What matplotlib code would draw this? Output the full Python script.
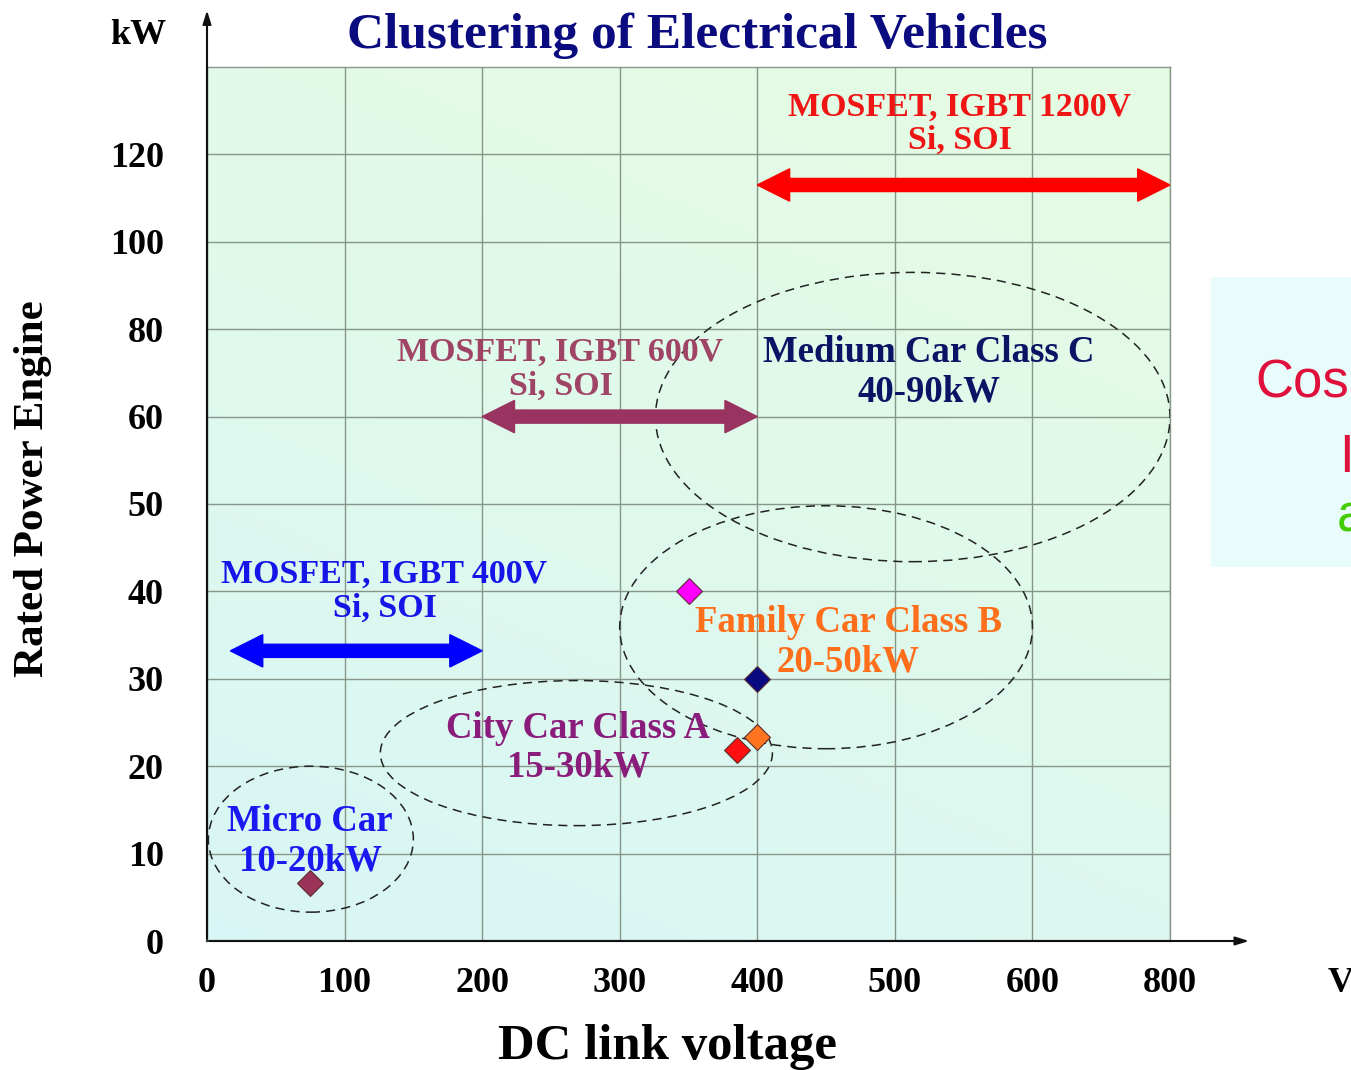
import numpy as np
import matplotlib.pyplot as plt
from matplotlib.patches import Ellipse, Polygon, Rectangle

# axis ticks (the axis is evenly spaced by tick, not linear in value)
x_ticks = [0, 100, 200, 300, 400, 500, 600, 800]
y_ticks = [0, 10, 20, 30, 40, 50, 60, 80, 100, 120]
y_top = 140

# vehicles (diamonds)
vehicle_v = [75, 350, 400, 385, 400]
vehicle_kw = [6.6, 40, 30, 21.9, 23.3]
vehicle_colors = ['#9B3358', '#FF00FF', '#0A0A80', '#FF1010', '#FF7420']

# vehicle clusters (dashed ellipses), bounds in V and kW
cluster_labels = ['Micro Car\n10-20kW', 'City Car Class A\n15-30kW',
                  'Family Car Class B\n20-50kW', 'Medium Car Class C\n40-90kW']
cluster_v = [(1, 150), (126, 411), (300, 600), (326, 800)]
cluster_kw = [(3.3, 20), (13.2, 29.8), (22, 49.8), (43.4, 93)]
cluster_colors = ['#1A1AF0', '#8A1C7C', '#FF6E1A', '#0A1464']
cluster_text_at = [(75, 11.4), (270, 22.1), (466, 34.2), (525, 70.2)]

# power device voltage ranges (double arrows)
device_labels = ['MOSFET, IGBT 400V\nSi, SOI', 'MOSFET, IGBT 600V\nSi, SOI',
                 'MOSFET, IGBT 1200V\nSi, SOI']
device_v = [(17, 200), (200, 400), (400, 800)]
device_kw = [33.2, 60, 113]
device_colors = ['#0000FF', '#993360', '#FF0000']
device_text_colors = ['#1515E8', '#A04466', '#F01515']
device_text_at = [(129, 40), (257, 70.8), (547, 127)]


def xp(v):
    return np.interp(v, x_ticks, np.arange(len(x_ticks)))


def yp(v):
    return np.interp(v, y_ticks + [y_top], np.arange(len(y_ticks) + 1))


serif = 'Liberation Serif'
W, H = 1351, 1070
fig = plt.figure(figsize=(W / 100, H / 100), dpi=100)
ax = fig.add_axes([207 / W, 1 - 941 / H, (1170 - 207) / W, (941 - 67) / H])

nx, ny = len(x_ticks) - 1, len(y_ticks)
ax.set_xlim(0, nx)
ax.set_ylim(0, ny)

# background gradient: cyan bottom-left to mint green top-right
gx, gy = np.meshgrid(np.linspace(0, 1, 200), np.linspace(0, 1, 200))
t = np.clip(0.35 * gx + 0.75 * gy, 0, 1)[..., None]
cyan = np.array([0.85, 0.965, 0.965])
green = np.array([0.895, 0.985, 0.895])
ax.imshow(cyan * (1 - t) + green * t, extent=[0, nx, 0, ny], origin='lower',
          aspect='auto', zorder=0)

ax.set_xticks(np.arange(len(x_ticks)))
ax.set_xticklabels([str(v) for v in x_ticks])
ax.set_yticks(np.arange(len(y_ticks)))
ax.set_yticklabels([str(v) for v in y_ticks])
ax.tick_params(length=0, labelsize=26)
ax.tick_params(axis='x', pad=19)
ax.tick_params(axis='y', pad=31)
for lab in ax.get_xticklabels() + ax.get_yticklabels():
    lab.set_fontfamily(serif)
    lab.set_fontweight('bold')
ax.get_xticklabels()[0].set_x(-0.09)
ax.grid(True, color='#869688', lw=1)
ax.set_axisbelow(True)
for s in ['top', 'right']:
    ax.spines[s].set_color('#869688')
    ax.spines[s].set_linewidth(1)
for s in ['left', 'bottom']:
    ax.spines[s].set_color('#2A3A3A')
    ax.spines[s].set_linewidth(1.5)

# axis arrows
ax.annotate('', xy=(0, 1.068), xytext=(0, 0), xycoords='axes fraction',
            arrowprops=dict(arrowstyle='-|>,head_length=0.8,head_width=0.25',
                            color='#111111', lw=1.5), annotation_clip=False)
ax.annotate('', xy=(1.085, 0), xytext=(0, 0), xycoords='axes fraction',
            arrowprops=dict(arrowstyle='-|>,head_length=0.8,head_width=0.25',
                            color='#111111', lw=1.5), annotation_clip=False)

# clusters
for lab, (v0, v1), (k0, k1), c, (tv, tk) in zip(cluster_labels, cluster_v, cluster_kw,
                                                 cluster_colors, cluster_text_at):
    x0, x1, y0, y1 = xp(v0), xp(v1), yp(k0), yp(k1)
    ax.add_patch(Ellipse(((x0 + x1) / 2, (y0 + y1) / 2), x1 - x0, y1 - y0,
                         fill=False, ec='#222222', lw=1.1, ls=(0, (6, 4)), zorder=3))
    ax.text(xp(tv), yp(tk), lab, color=c, fontsize=26.5, fontfamily=serif,
            fontweight='bold', ha='center', va='center', linespacing=1.15, zorder=5)

# device ranges
shaft, head_w, head_l = 0.075, 0.185, 0.235
for lab, (v0, v1), k, c, tc, (tv, tk) in zip(device_labels, device_v, device_kw, device_colors,
                                             device_text_colors, device_text_at):
    x0, x1, y = xp(v0), xp(v1), yp(k)
    pts = [(x0, y), (x0 + head_l, y + head_w), (x0 + head_l, y + shaft),
           (x1 - head_l, y + shaft), (x1 - head_l, y + head_w), (x1, y),
           (x1 - head_l, y - head_w), (x1 - head_l, y - shaft),
           (x0 + head_l, y - shaft), (x0 + head_l, y - head_w)]
    ax.add_patch(Polygon(pts, closed=True, fc=c, ec=c, lw=1, zorder=4))
    ax.text(xp(tv), yp(tk), lab, color=tc, fontsize=24.5, fontfamily=serif,
            fontweight='bold', ha='center', va='center', linespacing=1.1, zorder=5)

# vehicles
for v, k, c in zip(vehicle_v, vehicle_kw, vehicle_colors):
    ax.plot(xp(v), yp(k), marker='D', ms=13, color=c, mec='#5A3030', mew=0.8,
            ls='none', zorder=6)

# texts around the axes
fig.text(697 / W, 1 - 36 / H, 'Clustering of Electrical Vehicles', color='#0B0B80',
         fontsize=37, fontfamily=serif, fontweight='bold', ha='center', va='center')
fig.text(138 / W, 1 - 36 / H, 'kW', fontsize=26, fontfamily=serif, fontweight='bold',
         ha='center', va='center')
fig.text(1328 / W, 1 - 983 / H, 'V', fontsize=26, fontfamily=serif, fontweight='bold',
         ha='left', va='center')
fig.text(668 / W, 1 - 1047 / H, 'DC link voltage', fontsize=36.5, fontfamily=serif,
         fontweight='bold', ha='center', va='center')
fig.text(33 / W, 1 - 489 / H, 'Rated Power Engine', fontsize=31, fontfamily=serif,
         fontweight='bold', ha='center', va='center', rotation=90)

# cut-off slide box on the right
fig.patches.append(Rectangle((1211 / W, 1 - 567 / H), 140 / W, 290 / H,
                             transform=fig.transFigure, fc='#E8FCFC', ec='none'))
sans = ['Liberation Sans Narrow', 'Liberation Sans']
fig.text(1255 / W, 1 - 384 / H, 'Cos', color='#E0103C', fontsize=38, family=sans,
         ha='left', va='center')
fig.text(1339 / W, 1 - 458 / H, 'I', color='#E0103C', fontsize=38, family=sans,
         ha='left', va='center')
fig.text(1337 / W, 1 - 518 / H, 'a', color='#44CC00', fontsize=38, family=sans,
         ha='left', va='center')

fig.savefig('out.png', dpi=100)
